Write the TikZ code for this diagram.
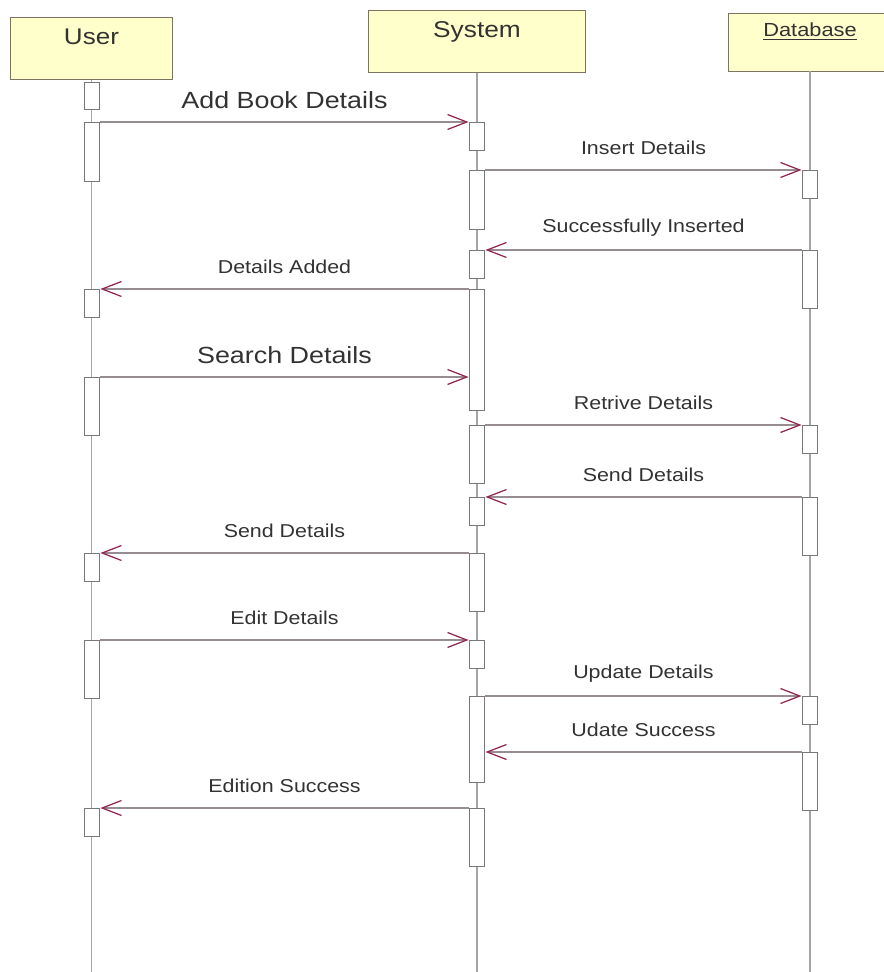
\documentclass[tikz,border=0pt]{standalone}
\usepackage{fontspec}
\setmainfont[FakeStretch=1.15]{Liberation Sans}
\usepackage{xcolor}
\usetikzlibrary{arrows.meta}

\definecolor{headfill}{RGB}{255,255,204}
\definecolor{headline}{RGB}{125,115,95}
\definecolor{lifegray}{RGB}{165,165,165}
\definecolor{boxgray}{RGB}{120,120,120}
\definecolor{msggray}{RGB}{150,140,145}
\definecolor{tipred}{RGB}{145,35,80}
\definecolor{txtgray}{RGB}{50,50,50}

\begin{document}
\begin{tikzpicture}[x=0.02cm,y=-0.02cm,
  head/.style={draw=headline,fill=headfill,anchor=north,inner sep=0pt,
    text=txtgray,text height=15.5pt,text depth=20pt},
  life/.style={draw=lifegray,line width=0.7pt},
  act/.style={draw=boxgray,fill=white,anchor=north,minimum width=9pt,inner sep=0pt,line width=0.6pt},
  msg/.style={draw=msggray,line width=0.8pt,
    -{Straight Barb[length=11pt,width=8.5pt,color=tipred,line width=0.7pt]}},
  lbl/.style={midway,yshift=12.5pt,text=txtgray,font=\fontsize{10.6}{12}\selectfont},
  biglbl/.style={lbl,font=\fontsize{13.3}{15}\selectfont}]
  \useasboundingbox (0,0) rectangle (884,972);
  \coordinate (bot) at (0,972);

  % objects
  \node[head,minimum width=92.4pt,font=\fontsize{12.9}{14}\selectfont] (user) at (91.5,17) {User};
  \node[head,minimum width=123.6pt,font=\fontsize{13}{14}\selectfont] (sys) at (477,10) {System};
  \node[head,minimum width=93pt,text height=13.3pt,text depth=19.5pt,
    font=\fontsize{10.8}{12}\selectfont] (db) at (810,13) {\underline{Database}};

  % lifelines
  \foreach \o in {user,sys,db}
    \draw[life] (\o.south) -- (\o.south |- bot);

  % activation bars
  \foreach \n/\ya/\yb in {u1/82/109,u2/122/181,u3/289/317,u4/377/435,u5/553/581,u6/640/698,u7/808/836}
    \node[act,minimum height={(\yb-\ya)*0.02cm}] (\n) at (92,\ya) {};
  \foreach \n/\ya/\yb in {s1/122/150,s2/170/229,s3/250/278,s4/289/410,s5/425/483,
      s6/497/525,s7/553/611,s8/640/668,s9/696/782,s10/808/866}
    \node[act,minimum height={(\yb-\ya)*0.02cm}] (\n) at (477,\ya) {};
  \foreach \n/\ya/\yb in {d1/170/198,d2/250/308,d3/425/453,d4/497/555,d5/696/724,d6/752/810}
    \node[act,minimum height={(\yb-\ya)*0.02cm}] (\n) at (810,\ya) {};

  % messages
  \draw[msg] (u2.north east) -- (s1.north west) node[biglbl] {Add Book Details};
  \draw[msg] (s2.north east) -- (d1.north west) node[lbl] {Insert Details};
  \draw[msg] (d2.north west) -- (s3.north east) node[lbl] {Successfully Inserted};
  \draw[msg] (s4.north west) -- (u3.north east) node[lbl] {Details Added};
  \draw[msg] (u4.north east) -- (u4.north east -| s4.west) node[biglbl] {Search Details};
  \draw[msg] (s5.north east) -- (d3.north west) node[lbl] {Retrive Details};
  \draw[msg] (d4.north west) -- (s6.north east) node[lbl] {Send Details};
  \draw[msg] (s7.north west) -- (u5.north east) node[lbl] {Send Details};
  \draw[msg] (u6.north east) -- (s8.north west) node[lbl] {Edit Details};
  \draw[msg] (s9.north east) -- (d5.north west) node[lbl] {Update Details};
  \draw[msg] (d6.north west) -- (d6.north west -| s9.east) node[lbl] {Udate Success};
  \draw[msg] (s10.north west) -- (u7.north east) node[lbl] {Edition Success};
\end{tikzpicture}
\end{document}
